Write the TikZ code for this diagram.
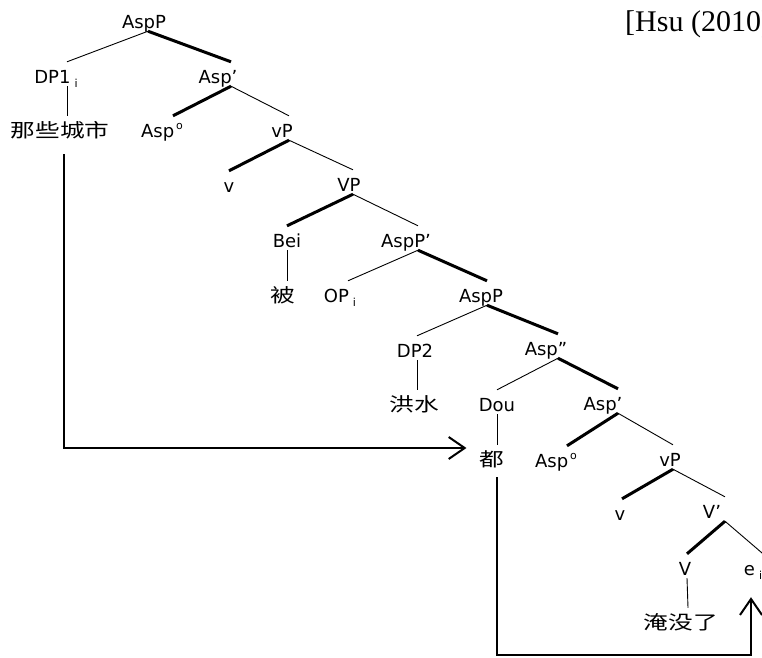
\documentclass[tikz,border=0pt]{standalone}
\usepackage{fontspec}
\setmainfont{DejaVu Sans}
\newfontfamily\cjk[FakeStretch=1.3]{Noto Sans CJK SC}
\newfontfamily\titlefont{Liberation Serif}
\usetikzlibrary{arrows.meta}
\newcommand{\lowi}[1]{\hspace{4pt}\raisebox{-4pt}{\fontsize{11}{11}\selectfont #1}}
\newcommand{\highdeg}{\hspace{2pt}\raisebox{8pt}{\fontsize{11}{11}\selectfont o}}
\tikzset{
  cat/.style={
    font=\fontsize{18}{20}\selectfont,
    inner sep=0pt,
    text height=21pt,
    text depth=3pt,
    anchor=base
  },
  word/.style={
    cat,
    font=\cjk\fontsize{19}{20}\selectfont
  },
  branch/.style={
    line width=0.9pt
  },
  headbranch/.style={
    line width=3pt
  },
  arrow/.style={
    -{Straight Barb[length=16pt,width=22pt]},
    line width=2pt
  }
}

\begin{document}
\begin{tikzpicture}[x=1pt,y=-1pt]
\useasboundingbox (0,0) rectangle (762,657);
\node[anchor=base west, inner sep=0pt, font=\titlefont\fontsize{30}{32}\selectfont] (source) at (625,31) {[Hsu (2010)]};
% labels
\node[cat] (root) at (144,28) {AspP};
\node[cat] (dpone) at (56,83) {DP1\lowi{i}};
\node[cat] (aspbar) at (218,83) {Asp'};
\node[word] (cities) at (60,137) {那些城市};
\node[cat] (aspzero) at (162,137) {Asp\highdeg};
\node[cat] (vp) at (282,137) {vP};
\node[cat] (vhead) at (229,192) {v};
\node[cat] (bigvp) at (349,191) {VP};
\node[cat] (bei) at (287,247) {Bei};
\node[cat] (asppbar) at (406,247) {AspP'};
\node[word] (beichar) at (283,302) {被};
\node[cat] (opi) at (340,302) {OP\lowi{i}};
\node[cat] (asppl) at (481,302) {AspP};
\node[cat] (dptwo) at (415,357) {DP2};
\node[cat] (aspdbar) at (546,355) {Asp''};
\node[word] (hongshui) at (414,411) {洪水};
\node[cat] (dou) at (497,411) {Dou};
\node[cat] (aspbarl) at (603,410) {Asp'};
\node[word] (duchar) at (492,466) {都};
\node[cat] (aspzerol) at (556,467) {Asp\highdeg};
\node[cat] (vpl) at (670,466) {vP};
\node[cat] (vheadl) at (620,520) {v};
\node[cat] (vbar) at (712,518) {V'};
\node[cat] (verb) at (685,575) {V};
\node[cat] (ei) at (753,575) {e\lowi{i}};
\node[word] (yanmeile) at (681,629) {淹没了};
% branches
\draw[branch] ([xshift=4pt]root.south) -- ([xshift=11pt]dpone.north);
\draw[headbranch] ([xshift=4pt]root.south) -- ([xshift=13pt]aspbar.north);
\draw[branch] ([xshift=11pt]dpone.south) -- ([xshift=7pt]cities.north);
\draw[headbranch] ([xshift=13pt]aspbar.south) -- ([xshift=11pt]aspzero.north);
\draw[branch] ([xshift=13pt]aspbar.south) -- ([xshift=7pt]vp.north);
\draw[headbranch] ([xshift=7pt]vp.south) -- (vhead.north);
\draw[branch] ([xshift=7pt]vp.south) -- ([xshift=4pt]bigvp.north);
\draw[headbranch] ([xshift=4pt]bigvp.south) -- (bei.north);
\draw[branch] ([xshift=4pt]bigvp.south) -- ([xshift=12pt]asppbar.north);
\draw[branch] (bei.south) -- ([xshift=4pt]beichar.north);
\draw[branch] ([xshift=12pt]asppbar.south) -- ([xshift=8pt]opi.north);
\draw[headbranch] ([xshift=12pt]asppbar.south) -- ([xshift=6pt]asppl.north);
\draw[branch] ([xshift=6pt]asppl.south) -- ([xshift=2pt]dptwo.north);
\draw[headbranch] ([xshift=6pt]asppl.south) -- ([xshift=12pt]aspdbar.north);
\draw[branch] ([xshift=2pt]dptwo.south) -- ([xshift=3pt]hongshui.north);
\draw[branch] ([xshift=12pt]aspdbar.south) -- (dou.north);
\draw[headbranch] ([xshift=12pt]aspdbar.south) -- ([xshift=15pt]aspbarl.north);
\draw[branch] (dou.south) -- ([xshift=5pt]duchar.north);
\draw[headbranch] ([xshift=15pt]aspbarl.south) -- ([xshift=11pt]aspzerol.north);
\draw[branch] ([xshift=15pt]aspbarl.south) -- ([xshift=3pt]vpl.north);
\draw[headbranch] ([xshift=3pt]vpl.south) -- ([xshift=2pt]vheadl.north);
\draw[branch] ([xshift=3pt]vpl.south) -- ([xshift=13pt]vbar.north);
\draw[headbranch] ([xshift=13pt]vbar.south) -- ([xshift=2pt]verb.north);
\draw[branch] ([xshift=13pt]vbar.south) -- ([xshift=10pt]ei.north);
\draw[branch] ([xshift=2pt]verb.south) -- ([xshift=7pt]yanmeile.north);
% movement
\draw[arrow] ([xshift=4pt,yshift=-14pt]cities.south) |- ([xshift=-13pt,yshift=9pt]duchar.west);
\draw[arrow] ([xshift=5pt,yshift=-8pt]duchar.south) -- ++(0,178) -| ([xshift=-2pt,yshift=-19pt]ei.south);
\end{tikzpicture}
\end{document}
